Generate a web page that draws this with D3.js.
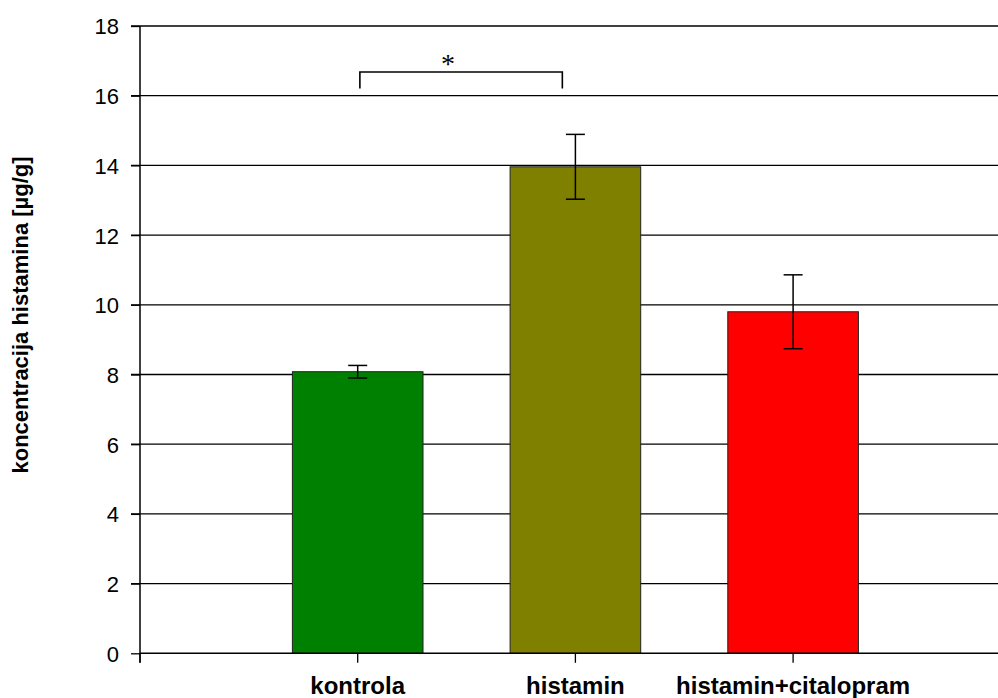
<!DOCTYPE html>
<html>
<head>
<meta charset="utf-8">
<script src="https://cdn.jsdelivr.net/npm/d3@7"></script>
<style>
  html, body { margin: 0; padding: 0; background: #fff; }
  svg { display: block; font-family: Arial, "Liberation Sans", sans-serif; }
</style>
</head>
<body>
<svg id="chart" width="998" height="698"></svg>
<script>
// Histamine concentration per treatment group (mean ± error)
const categories = ["kontrola", "histamin", "histamin+citalopram"];
const means = [8.08, 13.96, 9.80];
const errors = [0.18, 0.93, 1.06];
const barColors = ["#008000", "#808000", "#ff0000"];
const yTicks = [0, 2, 4, 6, 8, 10, 12, 14, 16, 18];
const yLabel = "koncentracija histamina [µg/g]";
// significance bracket between kontrola and histamin (category units / value units)
const bracketX = [1.01, 1.94];
const bracketY = [16.68, 16.21];
const starX = 1.415;
const starLabel = "*";

const svg = d3.select("#chart");
const W = 998;

// Category slot 0 is left empty; groups sit on slots 1..3
const x = d3.scaleLinear().domain([0, 4]).range([140, 140 + 4 * 217.7]);
const y = d3.scaleLinear().domain([0, 18]).range([653.3, 26]);
const barW = 0.6 * (x(1) - x(0));

// horizontal gridlines
svg.append("g").selectAll("line").data(yTicks.filter(d => d > 0)).join("line")
  .attr("x1", 131).attr("x2", W)
  .attr("y1", d => y(d)).attr("y2", d => y(d))
  .attr("stroke", "#000").attr("stroke-width", 1.3);

// bars
svg.append("g").selectAll("rect").data(categories).join("rect")
  .attr("x", (d, i) => x(i + 1) - barW / 2)
  .attr("width", barW)
  .attr("y", (d, i) => y(means[i]))
  .attr("height", (d, i) => y(0) - y(means[i]))
  .attr("fill", (d, i) => barColors[i])
  .attr("stroke", "#222").attr("stroke-width", 1);

// error bars
const eb = svg.append("g").attr("stroke", "#000").attr("stroke-width", 1.5);
categories.forEach((c, i) => {
  const cx = x(i + 1), hi = y(means[i] + errors[i]), lo = y(means[i] - errors[i]);
  eb.append("line").attr("x1", cx).attr("x2", cx).attr("y1", hi).attr("y2", lo);
  eb.append("line").attr("x1", cx - 9.5).attr("x2", cx + 9.5).attr("y1", hi).attr("y2", hi);
  eb.append("line").attr("x1", cx - 9.5).attr("x2", cx + 9.5).attr("y1", lo).attr("y2", lo);
});

// y axis
const yAxis = svg.append("g").attr("transform", "translate(140,0)")
  .call(d3.axisLeft(y).tickValues(yTicks).tickSize(9).tickPadding(12).tickFormat(d3.format("d")));
yAxis.select(".domain").attr("stroke", "#000").attr("stroke-width", 1.5)
  .attr("d", `M0,${y(18)}V${y(0) + 9.5}`);
yAxis.selectAll(".tick line").attr("stroke", "#000").attr("stroke-width", 1.3);
yAxis.selectAll(".tick text").attr("font-size", 22).attr("font-family", "Arial, 'Liberation Sans', sans-serif")
  .attr("fill", "#000").attr("dy", "0.36em");

// x axis
const xAxisG = svg.append("g").attr("transform", `translate(0,${y(0)})`);
xAxisG.append("line").attr("x1", 140).attr("x2", W).attr("y1", 0).attr("y2", 0)
  .attr("stroke", "#000").attr("stroke-width", 1.5);
xAxisG.selectAll("line.tk").data([0, 1, 2, 3]).join("line").attr("class", "tk")
  .attr("x1", d => x(d)).attr("x2", d => x(d)).attr("y1", 0).attr("y2", 9.5)
  .attr("stroke", "#000").attr("stroke-width", 1.3);
xAxisG.selectAll("text").data(categories).join("text")
  .attr("x", (d, i) => x(i + 1)).attr("y", 41)
  .attr("text-anchor", "middle").attr("font-weight", "bold").attr("font-size", 24)
  .attr("fill", "#000").text(d => d);

// y axis title
svg.append("text")
  .attr("transform", `translate(28,315) rotate(-90)`)
  .attr("text-anchor", "middle").attr("font-weight", "bold").attr("font-size", 22)
  .attr("fill", "#000").text(yLabel);

// significance bracket
svg.append("path")
  .attr("d", `M${x(bracketX[0])},${y(bracketY[1])}V${y(bracketY[0])}H${x(bracketX[1])}V${y(bracketY[1])}`)
  .attr("fill", "none").attr("stroke", "#000").attr("stroke-width", 1.6);
svg.append("text")
  .attr("x", x(starX)).attr("y", y(bracketY[0]) + 1)
  .attr("text-anchor", "middle").attr("font-family", "'Liberation Serif', 'Times New Roman', serif")
  .attr("font-size", 28).attr("fill", "#000").text(starLabel);
</script>
</body>
</html>
